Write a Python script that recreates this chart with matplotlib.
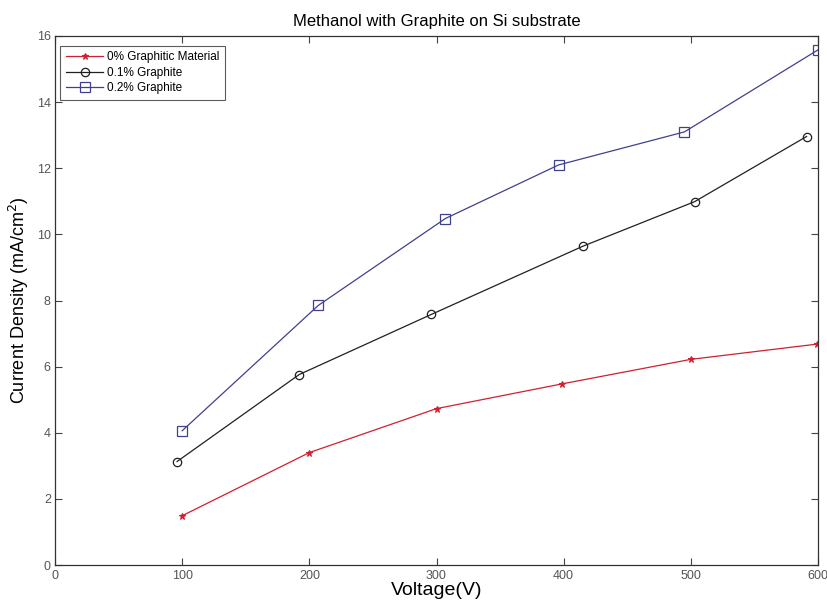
import matplotlib
matplotlib.use("Agg")
import matplotlib.pyplot as plt

title = "Methanol with Graphite on Si substrate"
labels = ["0% Graphitic Material", "0.1% Graphite", "0.2% Graphite"]

x_red = [100, 200, 300, 399, 500, 599]
y_red = [1.49, 3.40, 4.73, 5.48, 6.22, 6.68]

x_blk = [96, 192, 296, 415, 503, 591]
y_blk = [3.13, 5.76, 7.58, 9.64, 10.99, 12.96]

x_blu = [100, 207, 307, 396, 495, 600]
y_blu = [4.06, 7.85, 10.48, 12.1, 13.1, 15.58]

xticks = [0, 100, 200, 300, 400, 500, 600]
yticks = [0, 2, 4, 6, 8, 10, 12, 14, 16]

plt.rcParams['font.family'] = ['Liberation Sans', 'DejaVu Sans']

fig = plt.figure(figsize=(8.27, 6.02), dpi=100)
ax = fig.add_axes([55/827, 1-565/602, (818-55)/827, (565-36)/602])

ax.plot(x_red, y_red, color='#d02030', lw=0.9, marker='*', ms=5, mew=0.8, label=labels[0])
ax.plot(x_blk, y_blk, color='#202020', lw=0.9, marker='o', ms=6, mfc='none', mew=0.9, label=labels[1])
ax.plot(x_blu, y_blu, color='#404090', lw=0.9, marker='s', ms=6.5, mfc='none', mew=0.9, label=labels[2])

ax.set_xlim(0, 600)
ax.set_ylim(0, 16)
ax.set_xticks(xticks)
ax.set_yticks(yticks)
ax.tick_params(direction='in', top=True, right=True, length=5, width=0.8,
               labelsize=9, labelcolor='#555555', color='#444444')
ax.tick_params(axis='y', pad=3)
for s in ax.spines.values():
    s.set_color('#333333')
    s.set_linewidth(0.9)

ax.set_title(title, fontsize=12, pad=7)
ax.set_xlabel("Voltage(V)", fontsize=14, labelpad=0)
ax.set_ylabel("Current Density (mA/cm$^2$)", fontsize=13, labelpad=4)

leg = ax.legend(loc='upper left', bbox_to_anchor=(0.007, 0.981), fontsize=8.5,
                frameon=True, fancybox=False,
                edgecolor='#333333', borderpad=0.45, handlelength=3.2,
                handletextpad=0.3, labelspacing=0.3, borderaxespad=0.0)
leg.get_frame().set_linewidth(0.8)

fig.savefig("out.png", dpi=100)
